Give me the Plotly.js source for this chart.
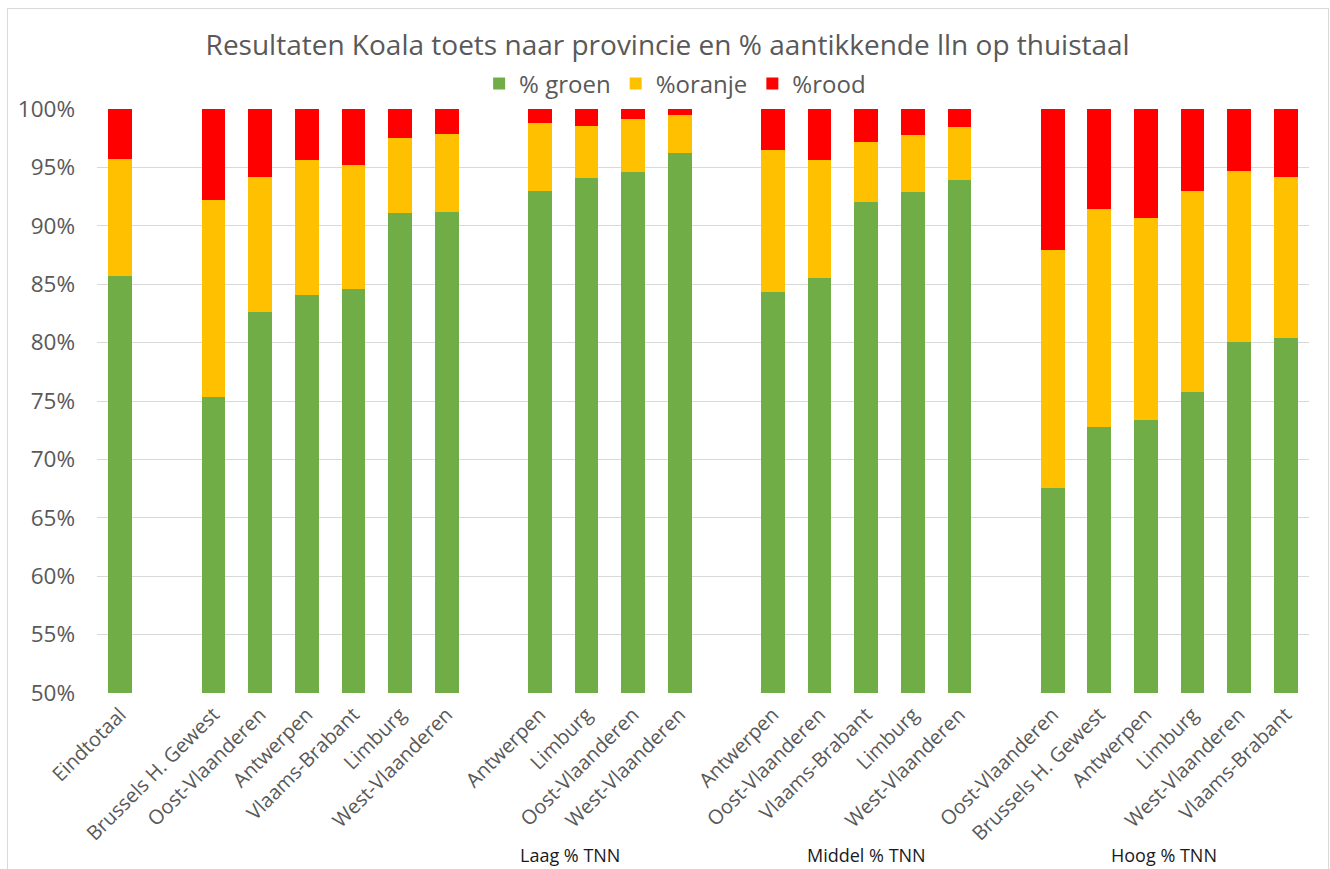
<!DOCTYPE html>
<html>
<head>
<meta charset="utf-8">
<script src="https://cdn.plot.ly/plotly-3.0.1.min.js"></script>
<style>
  html, body { margin: 0; padding: 0; background: #ffffff; }
  #chart { position: absolute; left: 0; top: 0; width: 1330px; height: 869px; }
  #frame { position: absolute; left: 7px; top: 8px; width: 1320px; height: 880px;
           border: 1px solid #d9d9d9; pointer-events: none; }
</style>
</head>
<body>
<div id="chart"></div>
<div id="frame"></div>
<script>
// Category labels per slot ('' = empty spacer slot between groups)
const categories = [
  'Eindtotaal', '',
  'Brussels H. Gewest', 'Oost-Vlaanderen', 'Antwerpen', 'Vlaams-Brabant', 'Limburg', 'West-Vlaanderen', '',
  'Antwerpen', 'Limburg', 'Oost-Vlaanderen', 'West-Vlaanderen', '',
  'Antwerpen', 'Oost-Vlaanderen', 'Vlaams-Brabant', 'Limburg', 'West-Vlaanderen', '',
  'Oost-Vlaanderen', 'Brussels H. Gewest', 'Antwerpen', 'Limburg', 'West-Vlaanderen', 'Vlaams-Brabant'
];

// Percentages per slot (null for spacer slots)
const groen = [
  85.74, null,
  75.37, 82.60, 84.11, 84.58, 91.09, 91.20, null,
  92.97, 94.11, 94.60, 96.23, null,
  84.34, 85.52, 92.03, 92.86, 93.91, null,
  67.58, 72.80, 73.40, 75.75, 80.03, 80.40
];
const oranje = [
  10.00, null,
  16.88, 11.62, 11.52, 10.59, 6.39, 6.66, null,
  5.80, 4.43, 4.51, 3.25, null,
  12.11, 10.11, 5.14, 4.88, 4.51, null,
  20.36, 18.66, 17.23, 17.22, 14.68, 13.74
];
const rood = [
  4.26, null,
  7.75, 5.78, 4.37, 4.83, 2.52, 2.14, null,
  1.23, 1.46, 0.89, 0.52, null,
  3.55, 4.37, 2.83, 2.26, 1.58, null,
  12.06, 8.54, 9.37, 7.03, 5.29, 5.86
];

const seriesNames = ['% groen', '%oranje', '%rood'];
const seriesColors = ['#70ad47', '#ffc000', '#ff0000'];

const groupLabels = ['Laag % TNN', 'Middel % TNN', 'Hoog % TNN'];
const groupLabelSlot = [9.65, 16.0, 22.4];

const yTicks = [50, 55, 60, 65, 70, 75, 80, 85, 90, 95, 100];

const slots = categories.map((c, i) => i);
const tickvals = slots.filter(i => categories[i] !== '');
const ticktext = tickvals.map(i => categories[i]);

const allValues = [groen, oranje, rood];
const traces = allValues.map((vals, k) => ({
  type: 'bar',
  name: seriesNames[k],
  x: slots,
  y: vals,
  marker: { color: seriesColors[k], line: { width: 0 } },
  hoverinfo: 'x+y+name'
}));

const FONT = 'Open Sans, Noto Sans, DejaVu Sans, sans-serif';

const layout = {
  width: 1330,
  height: 869,
  barmode: 'stack',
  bargap: 0.49,
  paper_bgcolor: '#ffffff',
  plot_bgcolor: '#ffffff',
  margin: { l: 97, r: 21, t: 109, b: 176, pad: 0 },
  title: {
    text: 'Resultaten Koala toets naar provincie en % aantikkende lln op thuistaal',
    font: { family: FONT, size: 28, color: '#595959' },
    x: 0.502, xanchor: 'center',
    y: 0.948, yanchor: 'middle'
  },
  showlegend: true,
  legend: {
    orientation: 'h',
    x: 0.477, xanchor: 'center',
    y: 1.043, yanchor: 'middle',
    font: { family: FONT, size: 24, color: '#595959' },
    traceorder: 'normal',
    itemwidth: 30
  },
  xaxis: {
    type: 'linear',
    range: [-0.5, categories.length - 0.5],
    tickmode: 'array',
    tickvals: tickvals,
    ticktext: ticktext,
    tickangle: -45,
    tickfont: { family: FONT, size: 20, color: '#595959' },
    showgrid: false,
    zeroline: false,
    showline: false,
    ticks: '',
    ticklabelstandoff: 5
  },
  yaxis: {
    range: [50, 100],
    tickmode: 'array',
    tickvals: yTicks,
    ticktext: yTicks.map(v => v + '%'),
    tickfont: { family: FONT, size: 22.5, color: '#595959' },
    showgrid: true,
    gridcolor: '#d9d9d9',
    gridwidth: 1,
    zeroline: false,
    showline: false,
    ticks: '',
    ticklabelstandoff: 21
  },
  annotations: groupLabels.map((t, i) => ({
    text: t,
    x: groupLabelSlot[i],
    xref: 'x',
    y: -0.277,
    yref: 'paper',
    xanchor: 'center',
    yanchor: 'middle',
    showarrow: false,
    font: { family: FONT, size: 18, color: '#1a1a1a' }
  }))
};

Plotly.newPlot('chart', traces, layout, { displayModeBar: false, staticPlot: false });
</script>
</body>
</html>
